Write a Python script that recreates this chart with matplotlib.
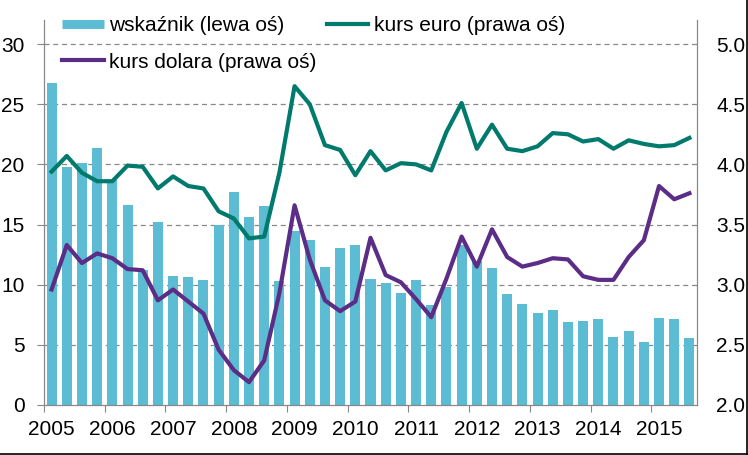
#!/usr/bin/env python3

import matplotlib
matplotlib.use("Agg")
import matplotlib.pyplot as plt
from matplotlib.lines import Line2D
import numpy as np

plt.rcParams['font.family'] = ['Liberation Sans', 'DejaVu Sans']
plt.rcParams['font.size'] = 15

# Quarterly data, 2005 Q1 - 2015 Q3
years = [str(y) for y in range(2005, 2016)]
wskaznik = [26.8, 19.8, 20.1, 21.4, 18.7, 16.6, 11.2, 15.2, 10.7, 10.6, 10.4,
            15.0, 17.7, 15.6, 16.5, 10.3, 14.5, 13.7, 11.5, 13.05, 13.3, 10.5,
            10.15, 9.3, 10.4, 8.3, 9.8, 13.3, 12.0, 11.4, 9.25, 8.4, 7.65, 7.9,
            6.9, 7.0, 7.15, 5.65, 6.15, 5.25, 7.25, 7.15, 5.55]
kurs_euro = [3.94, 4.07, 3.93, 3.86, 3.86, 3.99, 3.98, 3.80, 3.90, 3.82, 3.80,
             3.61, 3.55, 3.385, 3.40, 3.93, 4.65, 4.50, 4.16, 4.12, 3.91, 4.11,
             3.95, 4.01, 4.00, 3.95, 4.27, 4.51, 4.13, 4.33, 4.13, 4.11, 4.15,
             4.26, 4.25, 4.19, 4.21, 4.13, 4.20, 4.17, 4.15, 4.16, 4.22]
kurs_dolara = [2.96, 3.33, 3.18, 3.26, 3.22, 3.13, 3.12, 2.87, 2.96, 2.86, 2.76,
               2.46, 2.29, 2.19, 2.37, 2.93, 3.66, 3.21, 2.87, 2.78, 2.86, 3.39,
               3.08, 3.02, 2.88, 2.73, 3.05, 3.40, 3.15, 3.46, 3.23, 3.15, 3.18,
               3.22, 3.21, 3.07, 3.04, 3.04, 3.23, 3.37, 3.82, 3.71, 3.76]

bar_color = "#5BBCD3"
euro_color = "#007A6C"
usd_color = "#5B2D86"
axis_gray = "#888888"

W, H = 748, 455
fig = plt.figure(figsize=(W / 100, H / 100), dpi=100)
ax = fig.add_axes([44 / W, 50 / H, 653 / W, 385 / H])
ax2 = ax.twinx()

x = np.arange(len(wskaznik))
ax.bar(x, wskaznik, width=0.66, color=bar_color, zorder=2)
ax2.plot(x, kurs_euro, color=euro_color, lw=3, solid_joinstyle="round", zorder=3)
ax2.plot(x, kurs_dolara, color=usd_color, lw=3, solid_joinstyle="round", zorder=4)

ax.set_xlim(-0.5, len(wskaznik) - 0.5)
ax.set_ylim(0, 32)
ax2.set_ylim(2.0, 5.2)
ax.set_yticks(range(0, 31, 5))
ax2.set_yticks(np.arange(2.0, 5.01, 0.5))
ax2.set_yticklabels(["%.1f" % v for v in np.arange(2.0, 5.01, 0.5)])

# year ticks at quarter boundaries, labels a bit to the right
ax.set_xticks(np.arange(len(years)) * 4 - 0.5)
ax.set_xticklabels([])
ax.set_xticks(np.arange(len(years)) * 4, minor=True)
ax.set_xticklabels(years, minor=True)
ax.tick_params(axis="x", which="major", length=5, color=axis_gray, direction="out")
ax.tick_params(axis="x", which="minor", length=0, pad=11)
ax.tick_params(axis="y", length=5, color=axis_gray, pad=9)
ax2.tick_params(axis="y", length=0, pad=14)

for a in (ax, ax2):
    a.spines["top"].set_visible(False)
    for s in ("left", "right", "bottom"):
        a.spines[s].set_color(axis_gray)

for v in range(5, 31, 5):
    ax.axhline(v, color=axis_gray, lw=0.9, ls=(0, (4, 3)), zorder=1)

handles = [Line2D([], [], color=bar_color, lw=6.5, solid_capstyle="butt"),
           Line2D([], [], color=usd_color, lw=3),
           Line2D([], [], color=euro_color, lw=3)]
labels = ["wskaźnik (lewa oś)", "kurs dolara (prawa oś)", "kurs euro (prawa oś)"]
fig.legend(handles, labels, ncol=2, loc="upper left",
           bbox_to_anchor=(62 / W, 1 - 16 / H), frameon=False,
           borderpad=0, borderaxespad=0, handlelength=2.0,
           handletextpad=0.25, columnspacing=0.5, labelspacing=0.85)

# thin dark frame at bottom and right edge
fig.add_artist(Line2D([0, 1], [0.6 / H, 0.6 / H], color="black", lw=1.2,
                      transform=fig.transFigure))
fig.add_artist(Line2D([1 - 0.6 / W, 1 - 0.6 / W], [0, 1], color="black", lw=1.2,
                      transform=fig.transFigure))

fig.savefig("out.png", dpi=100)
